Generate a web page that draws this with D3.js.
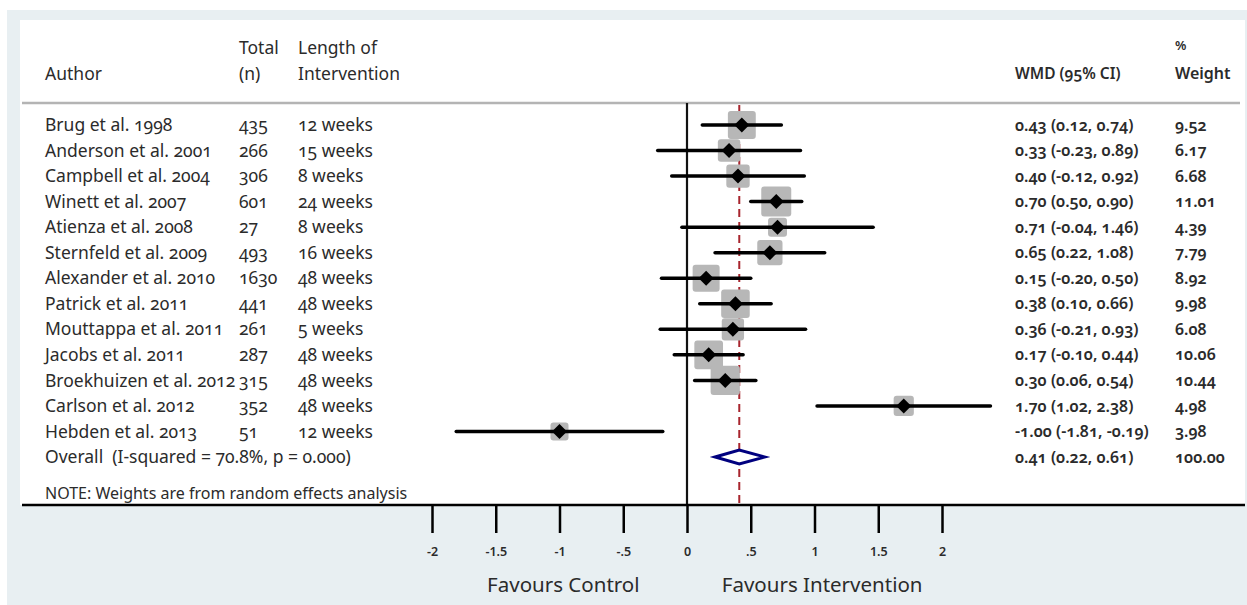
<!DOCTYPE html>
<html>
<head>
<meta charset="utf-8">
<script src="https://cdn.jsdelivr.net/npm/d3@7"></script>
<style>
  body { margin: 0; background: #fff; }
  svg text { font-family: "Noto Sans", "Open Sans", sans-serif; fill: #2b2b2b; font-variant-numeric: oldstyle-nums; white-space: pre; }
</style>
</head>
<body>
<svg id="chart" width="1247" height="605"></svg>
<script>
// study data
var authors = ["Brug et al. 1998", "Anderson et al. 2001", "Campbell et al. 2004", "Winett et al. 2007",
  "Atienza et al. 2008", "Sternfeld et al. 2009", "Alexander et al. 2010", "Patrick et al. 2011",
  "Mouttappa et al. 2011", "Jacobs et al. 2011", "Broekhuizen et al. 2012", "Carlson et al. 2012",
  "Hebden et al. 2013"];
var totals = [435, 266, 306, 601, 27, 493, 1630, 441, 261, 287, 315, 352, 51];
var lengths = ["12 weeks", "15 weeks", "8 weeks", "24 weeks", "8 weeks", "16 weeks", "48 weeks",
  "48 weeks", "5 weeks", "48 weeks", "48 weeks", "48 weeks", "12 weeks"];
var wmd = [0.43, 0.33, 0.40, 0.70, 0.71, 0.65, 0.15, 0.38, 0.36, 0.17, 0.30, 1.70, -1.00];
var ciLow = [0.12, -0.23, -0.12, 0.50, -0.04, 0.22, -0.20, 0.10, -0.21, -0.10, 0.06, 1.02, -1.81];
var ciHigh = [0.74, 0.89, 0.92, 0.90, 1.46, 1.08, 0.50, 0.66, 0.93, 0.44, 0.54, 2.38, -0.19];
var weights = [9.52, 6.17, 6.68, 11.01, 4.39, 7.79, 8.92, 9.98, 6.08, 10.06, 10.44, 4.98, 3.98];

var overall = {label: "Overall  (I-squared = 70.8%, p = 0.000)", est: 0.41, lo: 0.22, hi: 0.61, weight: 100};

var tickValues = [-2, -1.5, -1, -0.5, 0, 0.5, 1, 1.5, 2];
var tickLabels = ["-2", "-1.5", "-1", "-.5", "0", ".5", "1", "1.5", "2"];

var fmt = v => v.toFixed(2);

var svg = d3.select("#chart");

// backgrounds
svg.append("rect").attr("x", 7).attr("y", 10).attr("width", 1240).attr("height", 595).attr("fill", "#e8eff2");
svg.append("rect").attr("x", 20).attr("y", 20).attr("width", 1225).attr("height", 485).attr("fill", "#fff");

var x = d3.scaleLinear().domain([-2, 2]).range([432, 942]);
var rowIdx = d3.range(authors.length + 1);
var y = d3.scalePoint().domain(rowIdx).range([125, 457]);
var boxSize = d3.scaleSqrt().domain([0, 11.01]).range([0, 30]);

var plotTop = 103, plotBottom = 505;

// header
var head = svg.append("g").style("font-size", "17.5px");
head.append("text").attr("x", 45).attr("y", 80).text("Author");
head.append("text").attr("x", 239).attr("y", 54).text("Total");
head.append("text").attr("x", 239).attr("y", 80).text("(n)");
head.append("text").attr("x", 298).attr("y", 54).text("Length of");
head.append("text").attr("x", 298).attr("y", 80).text("Intervention");
head.append("text").attr("x", 1015).attr("y", 79).style("font-size", "15.5px").style("font-weight", 600).text("WMD (95% CI)");
head.append("text").attr("x", 1175).attr("y", 50).style("font-size", "13px").style("font-weight", 600).text("%");
head.append("text").attr("x", 1175).attr("y", 79).style("font-size", "16px").style("font-weight", 600).text("Weight");

svg.append("line").attr("x1", 22).attr("x2", 1240).attr("y1", plotTop).attr("y2", plotTop)
  .attr("stroke", "#b4b4b4").attr("stroke-width", 2.5);

// null line and overall line
svg.append("line").attr("x1", x(0)).attr("x2", x(0)).attr("y1", plotTop).attr("y2", plotBottom)
  .attr("stroke", "#111").attr("stroke-width", 2.2);
svg.append("line").attr("x1", x(overall.est)).attr("x2", x(overall.est)).attr("y1", plotTop + 2).attr("y2", plotBottom)
  .attr("stroke", "#a8252e").attr("stroke-width", 2).attr("stroke-dasharray", "8,5");

var studies = authors.map((a, i) => ({i: i, author: a, n: totals[i], len: lengths[i], est: wmd[i], lo: ciLow[i], hi: ciHigh[i], w: weights[i]}));

// weight boxes
svg.append("g").selectAll("rect").data(studies).join("rect")
  .attr("x", d => x(d.est) - boxSize(d.w) / 2)
  .attr("y", d => y(d.i) - boxSize(d.w) / 2)
  .attr("width", d => boxSize(d.w))
  .attr("height", d => boxSize(d.w))
  .attr("rx", 3)
  .attr("fill", "#b7b7b7");

// CI lines
svg.append("g").selectAll("line").data(studies).join("line")
  .attr("x1", d => x(d.lo)).attr("x2", d => x(d.hi))
  .attr("y1", d => y(d.i)).attr("y2", d => y(d.i))
  .attr("stroke", "#000").attr("stroke-width", 3.5).attr("stroke-linecap", "round");

// point estimates
var dm = 7.5;
svg.append("g").selectAll("path").data(studies).join("path")
  .attr("d", d => {
    var cx = x(d.est), cy = y(d.i);
    return `M${cx - dm},${cy}L${cx},${cy - dm}L${cx + dm},${cy}L${cx},${cy + dm}Z`;
  })
  .attr("fill", "#000");

// overall diamond
var oy = y(authors.length);
svg.append("path")
  .attr("d", `M${x(overall.lo)},${oy}L${x(overall.est)},${oy - 7}L${x(overall.hi)},${oy}L${x(overall.est)},${oy + 7}Z`)
  .attr("fill", "#fff").attr("stroke", "#00007f").attr("stroke-width", 3);

// left table text
var left = svg.append("g").style("font-size", "17.5px");
left.selectAll("text.author").data(studies).join("text").attr("class", "author")
  .attr("x", 45).attr("y", d => y(d.i)).attr("dy", "0.35em").text(d => d.author);
left.selectAll("text.n").data(studies).join("text").attr("class", "n")
  .attr("x", 239).attr("y", d => y(d.i)).attr("dy", "0.35em").text(d => d.n);
left.selectAll("text.len").data(studies).join("text").attr("class", "len")
  .attr("x", 298).attr("y", d => y(d.i)).attr("dy", "0.35em").text(d => d.len);
left.append("text").attr("x", 45).attr("y", oy).attr("dy", "0.35em").text(overall.label);
left.append("text").attr("x", 45).attr("y", 493).attr("dy", "0.35em").style("font-size", "16px")
  .text("NOTE: Weights are from random effects analysis");

// right table text
var right = svg.append("g").style("font-size", "16px").style("font-weight", 600);
right.selectAll("text.ci").data(studies).join("text").attr("class", "ci")
  .attr("x", 1015).attr("y", d => y(d.i)).attr("dy", "0.35em")
  .text(d => `${fmt(d.est)} (${fmt(d.lo)}, ${fmt(d.hi)})`);
right.selectAll("text.w").data(studies).join("text").attr("class", "w")
  .attr("x", 1175).attr("y", d => y(d.i)).attr("dy", "0.35em").text(d => fmt(d.w));
right.append("text").attr("x", 1015).attr("y", oy).attr("dy", "0.35em")
  .text(`${fmt(overall.est)} (${fmt(overall.lo)}, ${fmt(overall.hi)})`);
right.append("text").attr("x", 1175).attr("y", oy).attr("dy", "0.35em").text(fmt(overall.weight));

// x axis
svg.append("line").attr("x1", 22).attr("x2", 1245).attr("y1", plotBottom).attr("y2", plotBottom)
  .attr("stroke", "#000").attr("stroke-width", 2.5);

var axis = d3.axisBottom(x).tickValues(tickValues)
  .tickFormat((d, i) => tickLabels[i]).tickSize(28).tickPadding(14);
var ax = svg.append("g").attr("transform", `translate(0,${plotBottom})`).call(axis);
ax.select(".domain").remove();
ax.selectAll(".tick line").attr("stroke", "#000").attr("stroke-width", 2.5);
ax.selectAll(".tick text").style("font-size", "12.5px").style("font-weight", 600)
  .style("font-variant-numeric", "lining-nums")
  .style("font-family", "'Noto Sans', sans-serif").attr("fill", "#2b2b2b");

svg.append("text").attr("x", x(-0.97)).attr("y", 592).attr("text-anchor", "middle").style("font-size", "20.5px")
  .text("Favours Control");
svg.append("text").attr("x", x(1.06)).attr("y", 592).attr("text-anchor", "middle").style("font-size", "20.5px")
  .text("Favours Intervention");
</script>
</body>
</html>
